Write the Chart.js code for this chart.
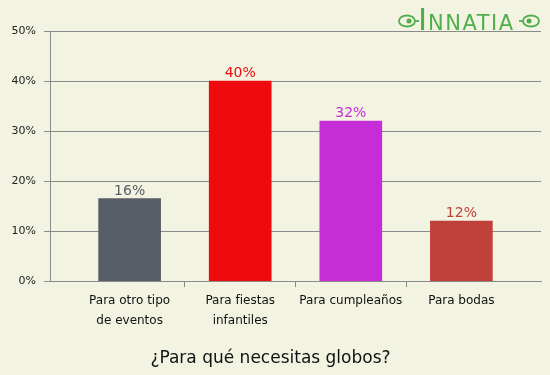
<!DOCTYPE html>
<html lang="es">
<head>
  <meta charset="UTF-8">
  <title>¿Para qué necesitas globos?</title>
  <script src="https://cdn.jsdelivr.net/npm/chart.js"></script>
  <style>
    html, body {
      margin: 0;
      padding: 0;
      background: #f3f3e2;
    }
    #wrap {
      width: 550px;
      height: 375px;
    }
  </style>
</head>
<body>
  <div id="wrap"><canvas id="chart"></canvas></div>

  <script>
    const categories = [
      ["Para otro tipo", "de eventos"],
      ["Para fiestas", "infantiles"],
      ["Para cumpleaños"],
      ["Para bodas"]
    ];
    const values = [16.5, 40, 32, 12];
    const valueLabels = ["16%", "40%", "32%", "12%"];
    const barColors = ["#575e67", "#ef0a0e", "#c52dd6", "#bf4038"];
    const yTicks = [0, 10, 20, 30, 40, 50];
    const title = "¿Para qué necesitas globos?";

    const FONT = "'DejaVu Sans', Verdana, sans-serif";
    const GRID = "#8a8a8a";

    // numbers over the bars
    const valueLabelPlugin = {
      id: "valueLabels",
      afterDatasetsDraw(chart) {
        const ctx = chart.ctx;
        const meta = chart.getDatasetMeta(0);
        ctx.save();
        ctx.font = "14px " + FONT;
        ctx.textAlign = "center";
        ctx.textBaseline = "alphabetic";
        meta.data.forEach((bar, i) => {
          ctx.fillStyle = barColors[i];
          ctx.fillText(valueLabels[i], bar.x, bar.y - 4);
        });
        ctx.restore();
      }
    };

    // the INNATIA logo top right
    const logoPlugin = {
      id: "logo",
      afterDraw(chart) {
        const ctx = chart.ctx;
        ctx.save();
        ctx.fillStyle = "#4fae4a";
        ctx.strokeStyle = "#4fae4a";
        ctx.textBaseline = "alphabetic";
        ctx.textAlign = "left";
        ctx.font = "31px 'DejaVu Sans', sans-serif";
        ctx.fillText("I", 418, 30);
        ctx.font = "21px 'DejaVu Sans', sans-serif";
        if ("letterSpacing" in ctx) ctx.letterSpacing = "1.5px";
        ctx.fillText("NNATIA", 428, 30);
        // little ornaments at each side
        ctx.lineWidth = 1.8;
        [[407, 21], [531, 21]].forEach(([cx, cy], k) => {
          const d = k ? -1 : 1;
          ctx.beginPath();
          ctx.ellipse(cx, cy, 8, 5.5, 0, 0, Math.PI * 2);
          ctx.stroke();
          ctx.beginPath();
          ctx.arc(cx + d * 2, cy, 2.5, 0, Math.PI * 2);
          ctx.fill();
          ctx.beginPath();
          ctx.moveTo(cx + d * 8, cy);
          ctx.lineTo(cx + d * 12, cy);
          ctx.stroke();
        });
        ctx.restore();
      }
    };

    new Chart(document.getElementById("chart"), {
      type: "bar",
      data: {
        datasets: [{
          data: values.map((v, i) => ({ x: i + 1, y: v })),
          backgroundColor: barColors,
          barThickness: 62,
          borderWidth: 0
        }]
      },
      options: {
        responsive: true,
        maintainAspectRatio: false,
        animation: false,
        layout: {
          padding: { top: 31, right: 9, left: 0, bottom: 6.5 }
        },
        plugins: {
          legend: { display: false },
          tooltip: { enabled: false },
          title: {
            display: true,
            position: "bottom",
            text: title,
            color: "#111",
            font: { family: FONT, size: 17, weight: "normal", lineHeight: 1.2 },
            padding: 0
          }
        },
        scales: {
          x: {
            type: "linear",
            offset: false,
            min: 0.28,
            max: 4.72,
            afterBuildTicks(scale) {
              scale.ticks = categories.map((_, i) => ({ value: i + 1 }));
            },
            afterFit(scale) {
              scale.height = 67;
            },
            ticks: {
              color: "#111",
              padding: 4,
              maxRotation: 0,
              autoSkip: false,
              font: { family: FONT, size: 12, lineHeight: 1.67 },
              callback: (v) => categories[Math.round(v) - 1] || ""
            },
            grid: {
              offset: true,
              drawOnChartArea: false,
              tickLength: 6,
              // only the marks between categories
              color: (c) => (c.index === undefined || c.index === 0) ? "rgba(0,0,0,0)" : GRID
            },
            border: { display: true, color: GRID, width: 1 }
          },
          y: {
            min: 0,
            max: 50,
            afterBuildTicks(scale) {
              scale.ticks = yTicks.map(v => ({ value: v }));
            },
            afterFit(scale) {
              scale.width = 50;
            },
            ticks: {
              color: "#222",
              padding: 8,
              font: { family: FONT, size: 11 },
              callback: (v) => v + "%"
            },
            grid: {
              color: GRID,
              tickLength: 6
            },
            border: { display: true, color: GRID, width: 1 }
          }
        }
      },
      plugins: [valueLabelPlugin, logoPlugin]
    });
  </script>
</body>
</html>
